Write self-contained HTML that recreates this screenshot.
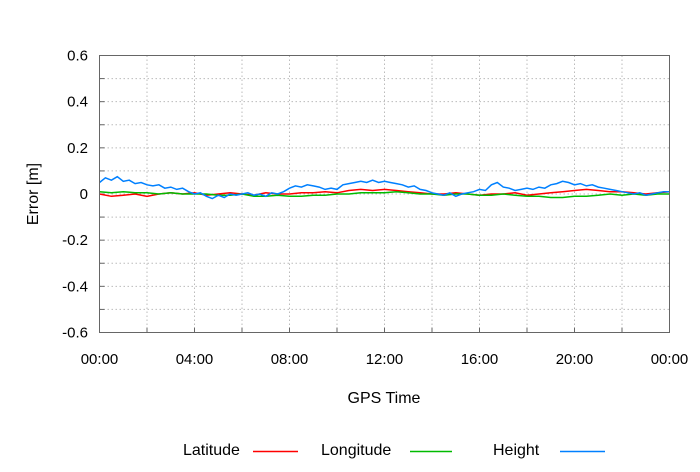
<!DOCTYPE html>
<html><head><meta charset="utf-8"><style>
body{margin:0;background:#fff;}
svg text{font-family:"Liberation Sans",sans-serif;fill:#000;}
</style></head><body>
<svg id="chart" width="700" height="467" viewBox="0 0 700 467" xmlns="http://www.w3.org/2000/svg">
<g id="grid"></g>
<g id="series"></g>
<rect x="99.5" y="55.5" width="570" height="277" fill="none" stroke="#666" stroke-width="1"/>
<g id="ticks"></g>
<text x="384" y="403" font-size="16" text-anchor="middle">GPS Time</text>
<text x="0" y="0" font-size="16" text-anchor="middle" transform="translate(38,194) rotate(-90)">Error [m]</text>
<g>
<text x="183" y="455" font-size="16">Latitude</text>
<line x1="253" y1="451.5" x2="298" y2="451.5" stroke="#ff0000" stroke-width="1.5"/>
<text x="321" y="455" font-size="16">Longitude</text>
<line x1="410" y1="451.5" x2="452" y2="451.5" stroke="#00bb00" stroke-width="1.5"/>
<text x="493" y="455" font-size="16">Height</text>
<line x1="560" y1="451.5" x2="605" y2="451.5" stroke="#0080ff" stroke-width="1.5"/>
</g>
</svg>
<script>
const xTickLabels=["00:00","04:00","08:00","12:00","16:00","20:00","00:00"];
const yTickValues=[0.6,0.4,0.2,0,-0.2,-0.4,-0.6];
const yTickLabels=["0.6","0.4","0.2","0","-0.2","-0.4","-0.6"];
const height=[0.05,0.07,0.06,0.075,0.055,0.06,0.045,0.05,0.04,0.035,0.04,0.025,0.03,0.02,0.025,0.01,0.0,0.005,-0.01,-0.02,-0.005,-0.015,0.0,-0.005,0.0,0.005,-0.005,0.0,-0.01,0.005,0.0,0.01,0.025,0.035,0.03,0.04,0.035,0.03,0.02,0.025,0.02,0.04,0.045,0.05,0.055,0.05,0.06,0.05,0.055,0.05,0.045,0.04,0.03,0.035,0.02,0.015,0.005,0.0,-0.005,0.005,-0.01,0.0,0.005,0.01,0.02,0.015,0.04,0.05,0.03,0.025,0.015,0.02,0.025,0.02,0.03,0.025,0.04,0.045,0.055,0.05,0.04,0.045,0.035,0.04,0.03,0.025,0.02,0.015,0.01,0.005,0.0,0.005,-0.005,0.0,0.005,0.01,0.01];
const latitude=[0,-0.01,-0.005,0.0,-0.01,0.0,0.005,0.0,0.005,-0.005,0.0,0.005,0.0,-0.005,0.005,0.0,0.0,0.005,0.005,0.01,0.005,0.015,0.02,0.015,0.02,0.015,0.01,0.005,0.0,0.0,0.005,0.0,-0.005,0.0,0.0,0.005,-0.005,0.0,0.005,0.01,0.015,0.02,0.015,0.01,0.01,0.005,0.0,0.005,0.01];
const longitude=[0.01,0.005,0.01,0.005,0.005,0.0,0.005,0.0,0.0,0.0,-0.005,-0.005,0.0,-0.01,-0.01,-0.005,-0.01,-0.01,-0.005,-0.005,0.0,0.0,0.005,0.005,0.005,0.01,0.005,0.0,0.0,-0.005,0.0,0.0,-0.005,-0.005,0.0,-0.005,-0.01,-0.01,-0.015,-0.015,-0.01,-0.01,-0.005,0.0,-0.005,0.0,-0.005,0.0,0.0];
const NS="http://www.w3.org/2000/svg";
const L=99.5,R=669.5,T=55.5,B=332.5;
const xs=h=>L+(h/24)*(R-L);
const ys=v=>T+(0.6-v)/1.2*(B-T);
const grid=document.getElementById('grid'),ticks=document.getElementById('ticks'),ser=document.getElementById('series');
function mk(tag,attrs,parent){const e=document.createElementNS(NS,tag);for(const k in attrs)e.setAttribute(k,attrs[k]);parent.appendChild(e);return e;}
for(let h=2;h<24;h+=2){
 const g=mk('line',{x1:xs(h),x2:xs(h),y1:T,y2:B,stroke:'#bbb','stroke-dasharray':'1.5,2.5'},grid);
 
 
 const t1=mk('line',{x1:xs(h),x2:xs(h),y1:B,y2:B-5,stroke:'#666'},grid);
 
 
}
for(let i=-5;i<=5;i++){
 const v=i/10;
 const g=mk('line',{x1:L,x2:R,y1:ys(v),y2:ys(v),stroke:'#bbb','stroke-dasharray':'1.5,2.5'},grid);
 
 
 const t1=mk('line',{x1:L,x2:L+5,y1:ys(v),y2:ys(v),stroke:'#666'},grid);
 
 
}
xTickLabels.forEach((s,i)=>{
 const t=mk('text',{x:xs(i*4),y:364,'font-size':15,'text-anchor':'middle'},ticks);
 t.textContent=s;
 
 
});
yTickValues.forEach((v,i)=>{
 const t=mk('text',{x:88,y:ys(v)+5,'font-size':15,'text-anchor':'end'},ticks);
 t.textContent=yTickLabels[i];
 
 
});
function line(arr,color,name){
 const pts=arr.map((v,i)=>xs(i/(arr.length-1)*24).toFixed(1)+','+ys(v).toFixed(1)).join(' ');
 const p=mk('polyline',{points:pts,fill:'none',stroke:color,'stroke-width':1.5},ser);
 
 
}
line(latitude,'#ff0000','latitude-line');
line(longitude,'#00bb00','longitude-line');
line(height,'#0080ff','height-line');
</script>
</body></html>
